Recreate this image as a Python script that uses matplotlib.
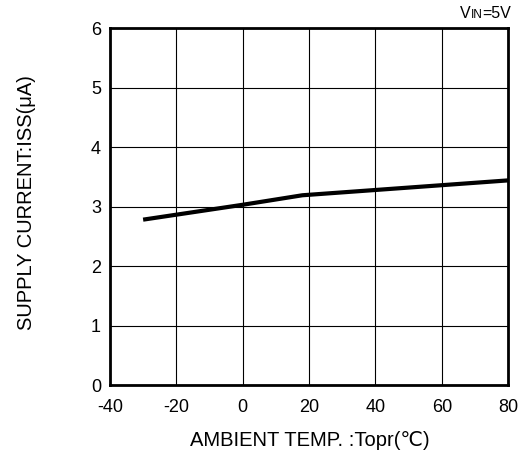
import matplotlib
matplotlib.use("Agg")
import matplotlib.pyplot as plt

plt.rcParams['font.family'] = ['Liberation Sans', 'DejaVu Sans']
plt.rcParams['axes.unicode_minus'] = False

temp = [-30, 0, 18, 80]
iss = [2.78, 3.03, 3.19, 3.44]
xticks = [-40, -20, 0, 20, 40, 60, 80]
yticks = [0, 1, 2, 3, 4, 5, 6]

W, H = 526, 457
fig = plt.figure(figsize=(W / 100, H / 100), dpi=100)
ax = fig.add_axes([0.209, 0.1575, 0.757, 0.781])

ax.plot(temp, iss, color='black', linewidth=3, solid_capstyle='butt', zorder=3)

ax.set_xlim(-40, 80)
ax.set_ylim(0, 6)
ax.set_xticks(xticks)
ax.set_yticks(yticks)
ax.grid(True, color='black', linewidth=0.8)
ax.tick_params(length=0, labelsize=13)
ax.tick_params(axis='x', pad=10)
ax.tick_params(axis='y', pad=6.5)
for s in ax.spines.values():
    s.set_linewidth(2)
    s.set_color('black')

# axis titles placed in figure pixels
fig.text(310 / W, 1 - 441 / H, 'AMBIENT TEMP. :Topr(℃)', fontsize=14.5,
         ha='center', va='center')
fig.text(27 / W, 1 - 203 / H, 'SUPPLY CURRENT:ISS(μA)', fontsize=14.5,
         rotation=90, ha='center', va='center')

# V_IN=5V label, with small "IN", right aligned near the top right corner
fig.canvas.draw()
r = fig.canvas.get_renderer()
x_right = 511 / W
y_base = 1 - 18 / H
t3 = fig.text(x_right, y_base, '=5V', fontsize=11.5, ha='right', va='baseline')
w3 = t3.get_window_extent(r).width / W
t2 = fig.text(x_right - w3, y_base, 'IN', fontsize=8.5, ha='right', va='baseline')
w2 = t2.get_window_extent(r).width / W
fig.text(x_right - w3 - w2, y_base, 'V', fontsize=11.5, ha='right', va='baseline')

fig.savefig('out.png', dpi=100)
